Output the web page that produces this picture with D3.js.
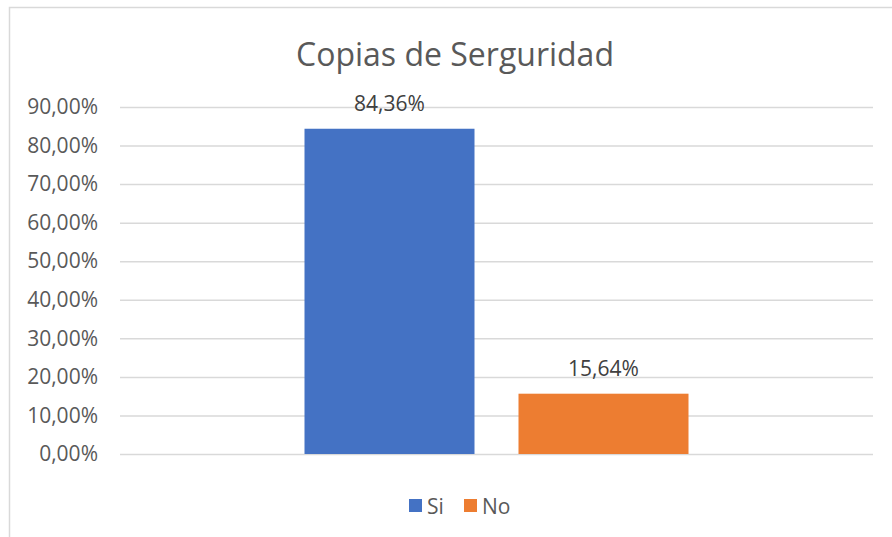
<!DOCTYPE html>
<html>
<head>
<meta charset="utf-8">
<script src="https://cdn.jsdelivr.net/npm/d3@7"></script>
<style>
  body { margin: 0; background: #fff; }
  svg text { font-family: "Open Sans", sans-serif; fill: #595959; }
</style>
</head>
<body>
<div id="chart"></div>
<script>
const title = 'Copias de Serguridad';
const categories = ['Copias'];
const series = ['Si', 'No'];
const values = [84.36, 15.64];
const colors = ['#4472C4', '#ED7D31'];
const yTicks = [0, 10, 20, 30, 40, 50, 60, 70, 80, 90];

const w = 892, h = 537;
const plot = { left: 120, right: 873, top: 107, bottom: 454 };
const fmt = v => v.toFixed(2).replace('.', ',') + '%';

const svg = d3.select('#chart').append('svg')
  .attr('width', w)
  .attr('height', h);

// chart border
svg.append('rect')
   .attr('x', 9.5).attr('y', 7.5)
   .attr('width', w + 20).attr('height', h + 20)
   .attr('fill', '#fff')
   .attr('stroke', '#d9d9d9')
   .attr('stroke-width', 1.5);

svg.append('text')
   .attr('x', 455)
   .attr('y', 66)
   .attr('text-anchor', 'middle')
   .style('font-size', '32px')
   .text(title);

const y = d3.scaleLinear().domain([0, 90]).range([plot.bottom, plot.top]);

const yAxis = svg.append('g')
  .attr('transform', `translate(${plot.left}, 0)`)
  .call(d3.axisLeft(y).tickValues(yTicks).tickSize(-(plot.right - plot.left)).tickPadding(22).tickFormat(fmt));
yAxis.select('.domain').remove();
yAxis.selectAll('.tick line').attr('stroke', '#d9d9d9').attr('stroke-width', 1.5);
yAxis.selectAll('.tick text')
     .style('font-size', '21px')
     .attr('fill', '#595959')
     .attr('font-family', '"Open Sans", sans-serif');

const x0 = d3.scaleBand().domain(categories).range([plot.left, plot.right]);
const groupW = 384;
const x1 = d3.scaleBand().domain(series)
  .range([x0('Copias') + (x0.bandwidth() - groupW) / 2, x0('Copias') + (x0.bandwidth() + groupW) / 2])
  .paddingInner(0.2056);

const bars = svg.append('g').selectAll('g')
  .data(series.map((s, i) => ({ s, v: values[i], c: colors[i] })))
  .enter().append('g');

bars.append('rect')
    .attr('x', d => x1(d.s))
    .attr('y', d => y(d.v))
    .attr('width', x1.bandwidth())
    .attr('height', d => y(0) - y(d.v))
    .attr('fill', d => d.c);

bars.append('text')
    .attr('x', d => x1(d.s) + x1.bandwidth() / 2)
    .attr('y', d => y(d.v) - 18)
    .attr('text-anchor', 'middle')
    .style('font-size', '21px')
    .style('fill', '#404040')
    .text(d => fmt(d.v));

// legend
const legendX = [409, 464];
const legend = svg.append('g').selectAll('g')
  .data(series.map((s, i) => ({ s, c: colors[i], x: legendX[i] })))
  .enter().append('g')
  .attr('transform', d => `translate(${d.x}, 499)`);

legend.append('rect')
      .attr('width', 13).attr('height', 13)
      .attr('fill', d => d.c);

legend.append('text')
      .attr('x', 18)
      .attr('y', 15)
      .style('font-size', '21px')
      .text(d => d.s);
</script>
</body>
</html>
